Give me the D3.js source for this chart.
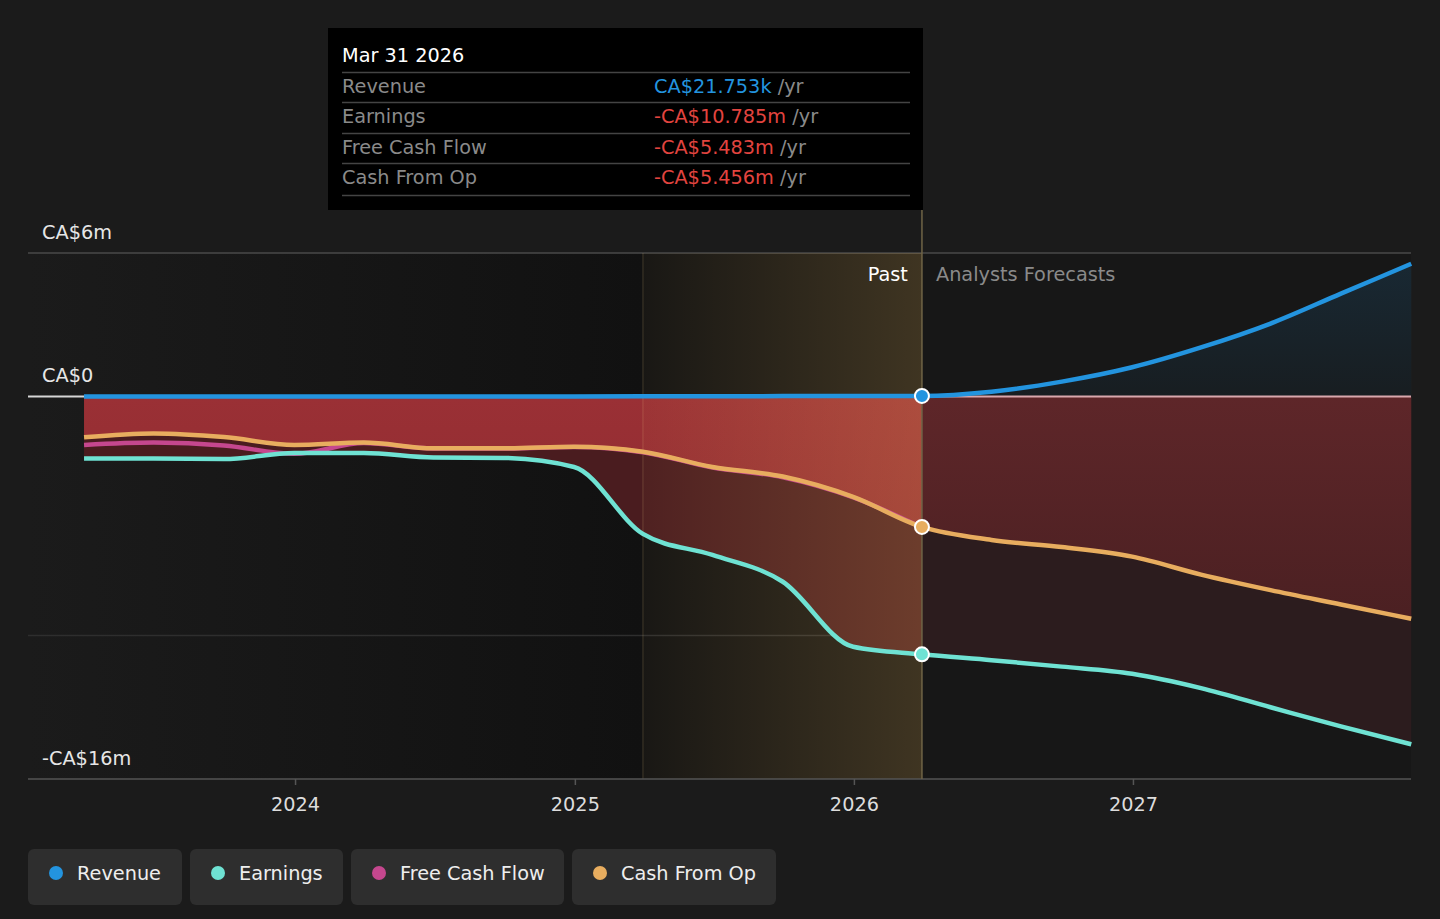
<!DOCTYPE html>
<html>
<head>
<meta charset="utf-8">
<script src="https://cdn.jsdelivr.net/npm/d3@7"></script>
<style>
  html, body { margin: 0; padding: 0; background: #1b1b1b; }
  svg { display: block; font-family: "DejaVu Sans", sans-serif; }
</style>
</head>
<body>
<div id="chart"></div>
<script>
// quarter ends, Mar 2023 .. Dec 2027 (last past point is Mar 31 2026)
var pastDates = ["2023-03-31", "2023-06-30", "2023-09-30", "2023-12-31", "2024-03-31", "2024-06-30",
    "2024-09-30", "2024-12-31", "2025-03-31", "2025-06-30", "2025-09-30", "2025-12-31", "2026-03-31"];
var forecastDates = ["2026-06-30", "2026-09-30", "2026-12-31", "2027-03-31", "2027-06-30", "2027-09-30", "2027-12-31"];

// values in CA$ millions
var revenuePast = [0, 0, 0, 0, 0, 0, 0, 0, 0.005, 0.01, 0.015, 0.02, 0.022];
var revenueForecast = [0.2, 0.62, 1.22, 2.05, 3.05, 4.3, 5.55];
var earningsPast = [-2.60, -2.60, -2.62, -2.36, -2.36, -2.55, -2.57, -2.95, -5.75, -6.63, -7.75, -10.47, -10.785];
var earningsForecast = [-11.03, -11.3, -11.6, -12.2, -13.0, -13.8, -14.55];
var fcfPast = [-2.03, -1.93, -2.05, -2.40, -1.95, -2.18, -2.18, -2.11, -2.33, -2.97, -3.38, -4.22, -5.483];
var cfoPast = [-1.71, -1.55, -1.70, -2.03, -1.93, -2.17, -2.17, -2.10, -2.31, -2.95, -3.35, -4.2, -5.456];
var cfoForecast = [-6.0, -6.3, -6.7, -7.45, -8.1, -8.7, -9.3];

var yTickValues = [6, 0, -16];
var yTickLabels = ["CA$6m", "CA$0", "-CA$16m"];
var yGridValues = [6, -10];
var xTickYears = [2024, 2025, 2026, 2027];

var seriesNames = ["Revenue", "Earnings", "Free Cash Flow", "Cash From Op"];
var seriesColors = ["#2394df", "#6fe2d3", "#c5478e", "#e8ad5f"];

var tooltipDate = "Mar 31 2026";
var tooltipValues = ["CA$21.753k", "-CA$10.785m", "-CA$5.483m", "-CA$5.456m"];

var svgWidth = 1440;
var svgHeight = 919;
var plotLeft = 28, plotRight = 1411;
var fontSize = "19.3px";

var parse = d3.timeParse("%Y-%m-%d");
var allDates = pastDates.concat(forecastDates).map(parse);
var pastEnd = parse("2026-03-31");
var bandStart = parse("2025-03-31");

function zip(dates, values) {
    return values.map(function (v, i) { return { date: dates[i], value: v }; });
}
var revenue = zip(allDates, revenuePast.concat(revenueForecast));
var earnings = zip(allDates, earningsPast.concat(earningsForecast));
var fcf = zip(allDates, fcfPast);
var cfo = zip(allDates, cfoPast.concat(cfoForecast));

var x = d3.scaleTime()
    .domain([new Date(2023, 0, 1), new Date(2028, 0, 1)])
    .range([16, 1412]);
var y = d3.scaleLinear()
    .domain([-16, 6])
    .range([779, 253]);

var svg = d3.select("#chart")
    .append("svg")
    .attr("width", svgWidth)
    .attr("height", svgHeight);

var defs = svg.append("defs");

var bgGrad = defs.append("linearGradient").attr("id", "bgGrad");
bgGrad.append("stop").attr("offset", "0%").attr("stop-color", "#1b1b1b");
bgGrad.append("stop").attr("offset", "100%").attr("stop-color", "#111111");

var bandGrad = defs.append("linearGradient").attr("id", "bandGrad");
bandGrad.append("stop").attr("offset", "0%").attr("stop-color", "#ffc864").attr("stop-opacity", 0.03);
bandGrad.append("stop").attr("offset", "100%").attr("stop-color", "#ffc864").attr("stop-opacity", 0.19);

var revGrad = defs.append("linearGradient").attr("id", "revGrad")
    .attr("x1", 0).attr("x2", 0).attr("y1", 0).attr("y2", 1);
revGrad.append("stop").attr("offset", "0%").attr("stop-color", "#2394df").attr("stop-opacity", 0.14);
revGrad.append("stop").attr("offset", "100%").attr("stop-color", "#2394df").attr("stop-opacity", 0.05);

var cfoFutGrad = defs.append("linearGradient").attr("id", "cfoFutGrad")
    .attr("x1", 0).attr("x2", 0).attr("y1", 0).attr("y2", 1);
cfoFutGrad.append("stop").attr("offset", "0%").attr("stop-color", "#5e2629");
cfoFutGrad.append("stop").attr("offset", "100%").attr("stop-color", "#4b2022");

var cfoPastGrad = defs.append("linearGradient").attr("id", "cfoPastGrad")
    .attr("x1", 0).attr("x2", 0).attr("y1", 0).attr("y2", 1);
cfoPastGrad.append("stop").attr("offset", "0%").attr("stop-color", "#9a3035");
cfoPastGrad.append("stop").attr("offset", "100%").attr("stop-color", "#8c2a2e");

defs.append("clipPath").attr("id", "clipPast")
    .append("rect")
    .attr("x", 0).attr("y", 0)
    .attr("width", x(pastEnd)).attr("height", svgHeight);
defs.append("clipPath").attr("id", "clipFuture")
    .append("rect")
    .attr("x", x(pastEnd)).attr("y", 0)
    .attr("width", svgWidth).attr("height", svgHeight);

// plot backgrounds
svg.append("rect")
    .attr("x", plotLeft).attr("y", y(6))
    .attr("width", x(bandStart) - plotLeft).attr("height", y(-16) - y(6))
    .attr("fill", "url(#bgGrad)");
svg.append("rect")
    .attr("x", x(bandStart)).attr("y", y(6))
    .attr("width", x(pastEnd) - x(bandStart)).attr("height", y(-16) - y(6))
    .attr("fill", "#121212");
svg.append("rect")
    .attr("x", x(pastEnd)).attr("y", y(6))
    .attr("width", plotRight - x(pastEnd)).attr("height", y(-16) - y(6))
    .attr("fill", "#171717");

// grid lines
svg.selectAll(".grid")
    .data(yGridValues)
    .enter()
    .append("line")
    .attr("x1", plotLeft).attr("x2", plotRight)
    .attr("y1", d => y(d)).attr("y2", d => y(d))
    .attr("stroke", d => d === 6 ? "#4a4a4a" : "#2e2e2e")
    .attr("stroke-width", 1.5);

var area = d3.area()
    .x(d => x(d.date))
    .y0(y(0))
    .y1(d => y(d.value))
    .curve(d3.curveMonotoneX);

var line = d3.line()
    .x(d => x(d.date))
    .y(d => y(d.value))
    .curve(d3.curveMonotoneX);

// past areas
var pastG = svg.append("g").attr("clip-path", "url(#clipPast)");
pastG.append("path").datum(earnings).attr("d", area).attr("fill", "#4a1c1f");
pastG.append("path").datum(cfo).attr("d", area).attr("fill", "url(#cfoPastGrad)");

// forecast areas
var futG = svg.append("g").attr("clip-path", "url(#clipFuture)");
futG.append("path").datum(earnings).attr("d", area).attr("fill", "#2c1c1e");
futG.append("path").datum(cfo).attr("d", area).attr("fill", "url(#cfoFutGrad)");
futG.append("path").datum(revenue).attr("d", area).attr("fill", "url(#revGrad)");

// highlighted last year band
svg.append("rect")
    .attr("x", x(bandStart)).attr("y", y(6))
    .attr("width", x(pastEnd) - x(bandStart)).attr("height", y(-16) - y(6))
    .attr("fill", "url(#bandGrad)");
svg.append("line")
    .attr("x1", x(bandStart)).attr("x2", x(bandStart))
    .attr("y1", y(6)).attr("y2", y(-16))
    .attr("stroke", "#ffdc96").attr("stroke-opacity", 0.12).attr("stroke-width", 1.5);

// zero line
svg.append("line")
    .attr("x1", plotLeft).attr("x2", x(allDates[0]))
    .attr("y1", y(0)).attr("y2", y(0))
    .attr("stroke", "#d6d6d6").attr("stroke-width", 2);
svg.append("line")
    .attr("x1", x(allDates[0])).attr("x2", plotRight)
    .attr("y1", y(0)).attr("y2", y(0))
    .attr("stroke", "#d9a7ad").attr("stroke-width", 2);

// bottom axis
svg.append("line")
    .attr("x1", plotLeft).attr("x2", plotRight)
    .attr("y1", y(-16)).attr("y2", y(-16))
    .attr("stroke", "#555").attr("stroke-width", 1.5);

var xAxis = svg.append("g")
    .attr("transform", `translate(0, ${y(-16)})`)
    .call(d3.axisBottom(x)
        .tickValues(xTickYears.map(yr => new Date(yr, 0, 1)))
        .tickSize(6)
        .tickFormat(d3.timeFormat("%Y")));
xAxis.select(".domain").remove();
xAxis.selectAll("line").attr("stroke", "#555").attr("stroke-width", 1.5);
xAxis.selectAll("text")
    .attr("fill", "#dddddd")
    .attr("font-size", fontSize)
    .attr("font-family", "DejaVu Sans, sans-serif")
    .attr("dy", "1.2em");

// y labels
svg.selectAll(".ylabel")
    .data(yTickValues)
    .enter()
    .append("text")
    .attr("x", 42)
    .attr("y", d => y(d) - 14)
    .attr("fill", "#e6e6e6")
    .attr("font-size", fontSize)
    .text((d, i) => yTickLabels[i]);

// series lines
svg.append("path").datum(revenue).attr("d", line)
    .attr("fill", "none").attr("stroke", seriesColors[0]).attr("stroke-width", 4.5);
svg.append("path").datum(fcf).attr("d", line)
    .attr("fill", "none").attr("stroke", seriesColors[2]).attr("stroke-width", 4.5);
svg.append("path").datum(earnings).attr("d", line)
    .attr("fill", "none").attr("stroke", seriesColors[1]).attr("stroke-width", 4.5);
svg.append("path").datum(cfo).attr("d", line)
    .attr("fill", "none").attr("stroke", seriesColors[3]).attr("stroke-width", 4.5);

// past / forecast divider
svg.append("line")
    .attr("x1", x(pastEnd)).attr("x2", x(pastEnd))
    .attr("y1", 210).attr("y2", y(-16))
    .attr("stroke", "#6f6446").attr("stroke-width", 1.5);

svg.append("text")
    .attr("x", x(pastEnd) - 14).attr("y", 281)
    .attr("text-anchor", "end")
    .attr("fill", "#ffffff").attr("font-size", fontSize)
    .text("Past");
svg.append("text")
    .attr("x", x(pastEnd) + 14).attr("y", 281)
    .attr("fill", "#8a8a8a").attr("font-size", fontSize)
    .text("Analysts Forecasts");

// markers at Mar 31 2026
var markers = [
    { value: revenuePast[12], color: seriesColors[0] },
    { value: cfoPast[12], color: seriesColors[3] },
    { value: earningsPast[12], color: seriesColors[1] }
];
svg.selectAll(".marker")
    .data(markers)
    .enter()
    .append("circle")
    .attr("cx", x(pastEnd))
    .attr("cy", d => y(d.value))
    .attr("r", 7)
    .attr("fill", d => d.color)
    .attr("stroke", "#ffffff")
    .attr("stroke-width", 2);

// tooltip
var tip = svg.append("g");
tip.append("rect")
    .attr("x", 328).attr("y", 28)
    .attr("width", 595).attr("height", 182)
    .attr("fill", "#000000");
tip.append("text")
    .attr("x", 342).attr("y", 62)
    .attr("fill", "#ffffff").attr("font-size", fontSize)
    .text(tooltipDate);
var sepY = [72.5, 102.5, 133.5, 163.5, 195.5];
tip.selectAll(".sep")
    .data(sepY)
    .enter()
    .append("line")
    .attr("x1", 342).attr("x2", 910)
    .attr("y1", d => d).attr("y2", d => d)
    .attr("stroke", "#444").attr("stroke-width", 1.5);
var rowY = [93, 123, 154, 184];
seriesNames.forEach(function (name, i) {
    tip.append("text")
        .attr("x", 342).attr("y", rowY[i])
        .attr("fill", "#8a8a8a").attr("font-size", fontSize)
        .text(name);
    var t = tip.append("text")
        .attr("x", 654).attr("y", rowY[i])
        .attr("font-size", fontSize);
    t.append("tspan")
        .attr("fill", i === 0 ? "#2394df" : "#e2443f")
        .text(tooltipValues[i]);
    t.append("tspan")
        .attr("fill", "#8a8a8a")
        .text(" /yr");
});

// legend
var legendX = [28, 190, 351, 572];
var legendW = [154, 153, 213, 204];
var legend = svg.append("g");
seriesNames.forEach(function (name, i) {
    legend.append("rect")
        .attr("x", legendX[i]).attr("y", 849)
        .attr("width", legendW[i]).attr("height", 56)
        .attr("rx", 6)
        .attr("fill", "#2e2e2e");
    legend.append("circle")
        .attr("cx", legendX[i] + 28).attr("cy", 873)
        .attr("r", 7)
        .attr("fill", seriesColors[i]);
    legend.append("text")
        .attr("x", legendX[i] + 49).attr("y", 880)
        .attr("fill", "#eeeeee").attr("font-size", fontSize)
        .text(name);
});
</script>
</body>
</html>
